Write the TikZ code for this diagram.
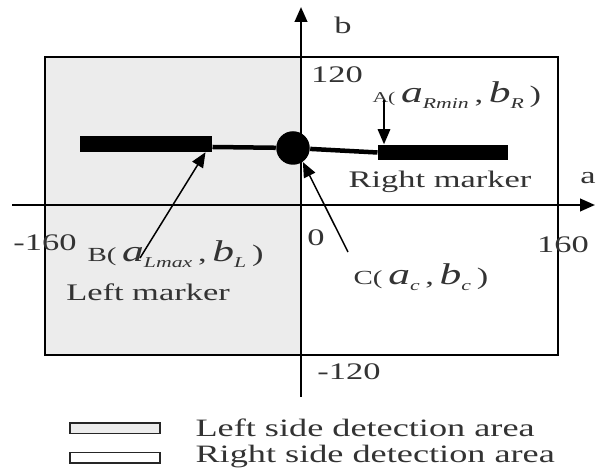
\documentclass[tikz,border=0pt]{standalone}
\usepackage{fontspec}
\setmainfont{Liberation Serif}
\usetikzlibrary{arrows.meta}
% the source figure is stretched sideways
\newcommand{\widetxt}[1]{\scalebox{1.45}[1]{#1}}
\newcommand{\lowsub}[1]{\raisebox{-2.6pt}{\fontsize{6}{7}\selectfont\itshape #1}}
\newcommand{\ptlabel}[4]{\widetxt{{\fontsize{#1}{9}\selectfont #2(}\,{\fontsize{12}{13}\selectfont\itshape a}\lowsub{#3}\,,\,{\fontsize{12}{13}\selectfont\itshape b}\lowsub{#4}\,)}}
\begin{document}
\begin{tikzpicture}[x=0.4pt, y=-0.4pt,
    lbl/.style={font=\fontsize{9.5}{11}\selectfont, text=black!80, inner sep=0pt},
    bar/.style={fill=black, draw=none, inner sep=0pt, minimum height=6.2pt},
    tip/.style={-{Triangle[length=6pt,width=5pt]}},
    key/.style={draw=black!85, line width=0.6pt, inner sep=0pt, minimum width=36pt, minimum height=4.2pt},
  ]
  \useasboundingbox (0,0) rectangle (597,470);
  % detection areas
  \fill[gray!15] (45,57) rectangle (301,355);
  \draw[line width=1.1pt] (45,57) rectangle (558,355);
  % axes
  \draw[line width=1pt, tip] (12,205) -- (595,205);
  \draw[line width=1pt, tip] (301,397) -- (301,7);
  \node[lbl] (aaxis) at (588,178) {\widetxt{a}};
  \node[lbl] (baxis) at (343,25) {\widetxt{b}};
  \node[lbl] (top) at (337,75) {\widetxt{120}};
  \node[lbl] (bot) at (349,372) {\widetxt{-120}};
  \node[lbl] (lft) at (45,243) {\widetxt{-160}};
  \node[lbl] (rgt) at (563,245) {\widetxt{160}};
  \node[lbl] (zero) at (316,238) {\widetxt{0}};
  % markers
  \node[bar, minimum width=52.8pt] (lbar) at (146,144) {};
  \node[bar, minimum width=52pt] (rbar) at (443,152.5) {};
  \node[circle, fill=black, inner sep=0pt, minimum size=13.4pt] (dot) at (293,148) {};
  \draw[line width=1.8pt] ([yshift=-1.2pt]lbar.east) -- (dot) -- (rbar.west);
  \node[lbl] (rname) at (440,182) {\widetxt{Right marker}};
  \node[lbl] (lname) at (148,292) {\widetxt{Left marker}};
  % point labels
  \node[lbl, anchor=west] (Alab) at (372,95) {\ptlabel{6}{A}{Rmin}{R}};
  \node[lbl, anchor=west] (Blab) at (87,254) {\ptlabel{8}{B}{Lmax}{L}};
  \node[lbl, anchor=west] (Clab) at (353,277) {\ptlabel{8}{C}{c}{c}};
  \coordinate (Atail) at (384,100);
  \coordinate (Btail) at (140,258);
  \coordinate (Ctail) at (348,252);
  \draw[line width=0.6pt, tip] (Atail) -- (Atail |- rbar.north);
  \draw[line width=0.6pt, tip] (Btail) -- ([xshift=-2.8pt]lbar.south east);
  \draw[line width=0.6pt, tip] (Ctail) -- (dot.-55);
  % legend
  \node[key, fill=gray!15] (lkey) at (115,428) {};
  \node[key, fill=white] (rkey) at (115,457.5) {};
  \node[lbl, anchor=west, font=\fontsize{10}{11}\selectfont] (lkeytxt) at (195,428) {\widetxt{Left side detection area}};
  \node[lbl, anchor=west, font=\fontsize{10}{11}\selectfont] (rkeytxt) at (195,457) {\widetxt{Right side detection area}};
\end{tikzpicture}
\end{document}
